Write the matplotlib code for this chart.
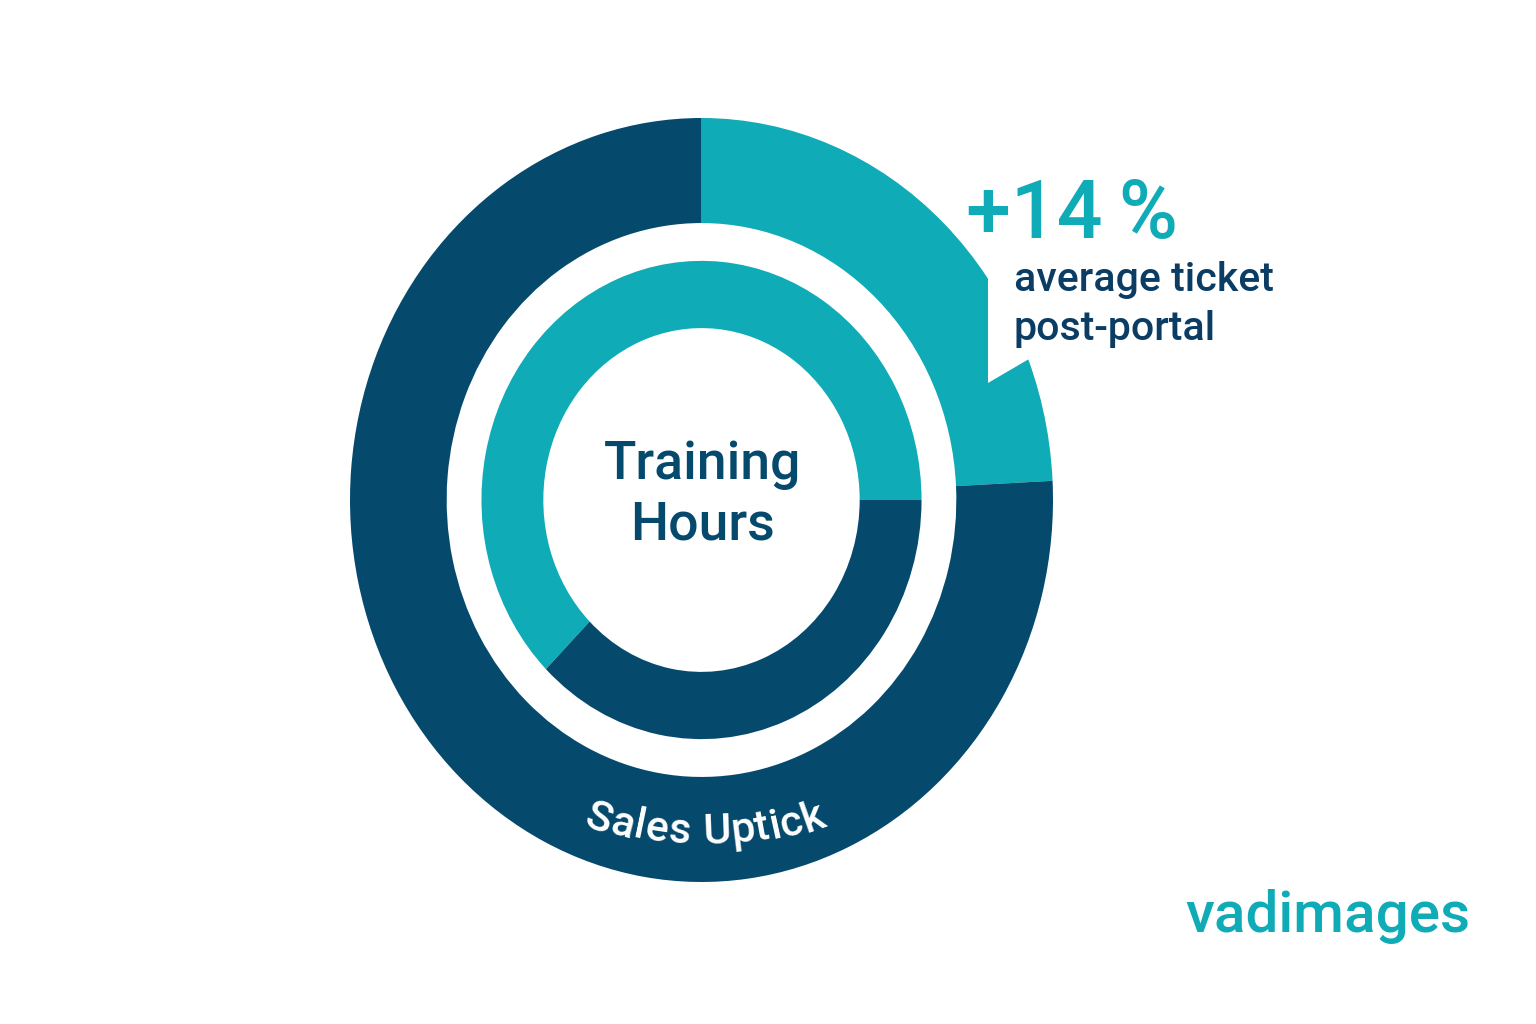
import matplotlib
matplotlib.use("Agg")
import matplotlib.pyplot as plt
import numpy as np
from matplotlib.patches import Polygon

plt.rcParams['font.family'] = ['Roboto', 'DejaVu Sans']

# data
outer_labels = ["Sales Uptick", "Other"]
outer_values = [24.2, 75.8]
inner_labels = ["Training Hours", "Other"]
inner_values = [62.5, 37.5]

TEAL = "#0fabb6"
NAVY = "#054a6d"
TEXT_NAVY = "#0b3d64"
WT = 500

W, H = 1536, 1024
fig = plt.figure(figsize=(W / 100, H / 100), dpi=100)
fig.patch.set_facecolor("white")

# donut axes (slightly taller than wide, like the reference)
cx, cy = 701.5, 500
rx, ry = 351.5, 382
ax = fig.add_axes([(cx - rx) / W, (H - cy - ry) / H, 2 * rx / W, 2 * ry / H])

ax.pie(outer_values, colors=[TEAL, NAVY], startangle=90, counterclock=False,
       radius=1.0, wedgeprops=dict(width=0.275, linewidth=0))
ax.pie(inner_values, colors=[TEAL, NAVY], startangle=0, counterclock=True,
       radius=0.626, wedgeprops=dict(width=0.176, linewidth=0))
ax.set_aspect("auto")
ax.set_xlim(-1, 1)
ax.set_ylim(-1, 1)
ax.axis("off")

# notch cut into the outer teal wedge (arrow-like)
def px(p):
    return ((p[0] - cx) / rx, (cy - p[1]) / ry)

notch = [px(p) for p in [(967, 247), (988, 270), (988, 383), (1029, 359),
                         (1080, 359), (1080, 200), (990, 200)]]
ax.add_patch(Polygon(notch, closed=True, facecolor="white", edgecolor="none",
                     clip_on=False, zorder=3))

# overlay axes in pixel coordinates for text
ov = fig.add_axes([0, 0, 1, 1])
ov.set_xlim(0, W)
ov.set_ylim(H, 0)
ov.axis("off")
ov.patch.set_alpha(0)

ov.text(703, 479, inner_labels[0].split()[0], ha="center", va="baseline",
        fontsize=38.5, color=NAVY, fontweight=WT)
ov.text(703, 540, inner_labels[0].split()[1], ha="center", va="baseline",
        fontsize=38.5, color=NAVY, fontweight=WT)

ov.text(966, 238, "+14\u2009%", ha="left", va="baseline", fontsize=58,
        color=TEAL, fontweight=WT)
ov.text(1014, 291, "average ticket", ha="left", va="baseline", fontsize=29.6,
        color=TEXT_NAVY, fontweight=WT)
ov.text(1014, 340, "post-portal", ha="left", va="baseline", fontsize=29.6,
        color=TEXT_NAVY, fontweight=WT)

ov.text(1470, 932, "vadimages", ha="right", va="baseline", fontsize=42,
        color=TEAL, fontweight=WT)

# curved label along the bottom of the outer ring
label = outer_labels[0]
fsize = 31
R = 450
acx, acy = 705, 832 - R
renderer = fig.canvas.get_renderer()
widths = []
for ch in label:
    if ch == " ":
        t = ov.text(0, 0, "n", fontsize=fsize, fontweight=WT)
        w = t.get_window_extent(renderer).width * 0.55
    else:
        t = ov.text(0, 0, ch, fontsize=fsize, fontweight=WT)
        w = t.get_window_extent(renderer).width
    t.remove()
    widths.append(w)
total = sum(widths)
s = -total / 2
for ch, w in zip(label, widths):
    mid = s + w / 2
    th = mid / R
    x = acx + R * np.sin(th)
    y = acy + R * np.cos(th)
    if ch != " ":
        ov.text(x, y, ch, ha="center", va="center", fontsize=fsize,
                color="white", fontweight=WT,
                rotation=np.degrees(th) * 1.4, rotation_mode="anchor")
    s += w

fig.savefig("out.png", dpi=100, facecolor="white")
